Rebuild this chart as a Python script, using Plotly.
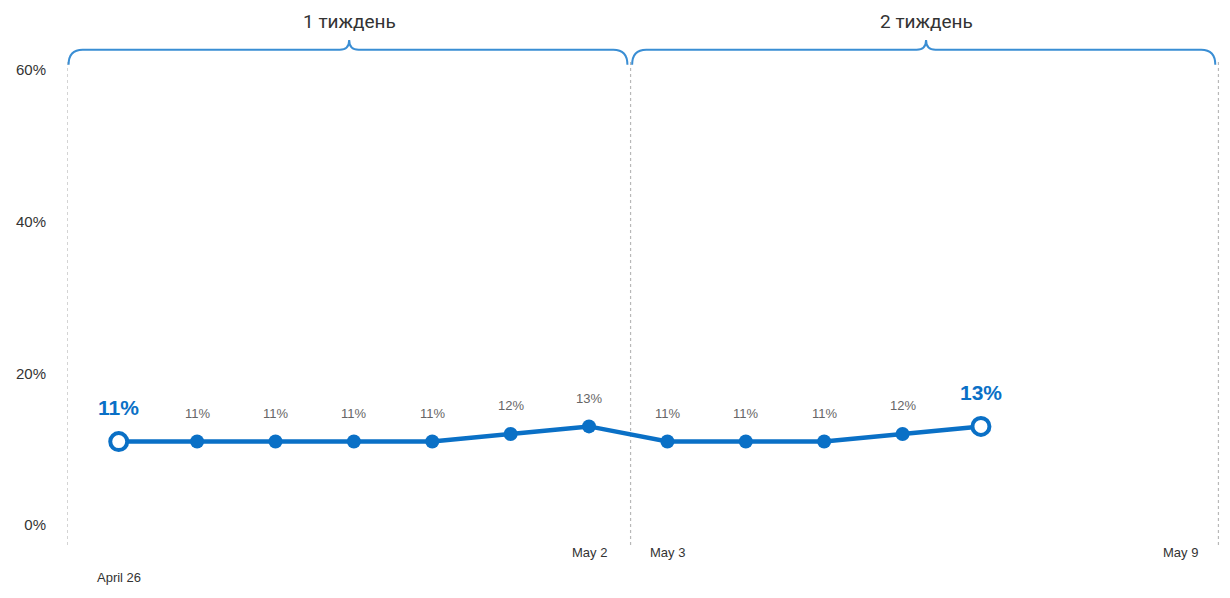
import plotly.graph_objects as go

# Daily share, April 26 – May 7 (day index counted from April 26)
day_index = [0, 1, 2, 3, 4, 5, 6, 7, 8, 9, 10, 11]
share_pct = [11, 11, 11, 11, 11, 12, 13, 11, 11, 11, 12, 13]

# Axis date labels: (day index, text)
date_labels = [(6, "May 2"), (7, "May 3"), (13.55, "May 9")]
start_label = (0, "April 26")

week_names = ["1 тиждень", "2 тиждень"]
week_bounds = [(-0.66, 6.53), (6.53, 14.03)]
week_peaks = [2.94, 10.3]

y_ticks = [0, 20, 40, 60]

BLUE = "#0a70c6"
BRACE = "#3a8ed4"
GRID = "#b8b8b8"

n = len(share_pct)
fig = go.Figure()

fig.add_trace(go.Scatter(
    x=day_index, y=share_pct, mode="lines+markers",
    line=dict(color=BLUE, width=4.5),
    marker=dict(
        size=[17] + [14] * (n - 2) + [17],
        color=["white"] + [BLUE] * (n - 2) + ["white"],
        opacity=1,
        line=dict(color=BLUE, width=[4] + [0] * (n - 2) + [4]),
    ),
    hoverinfo="skip", showlegend=False,
))

annotations = []
last = n - 1
for i, (d, v) in enumerate(zip(day_index, share_pct)):
    if i in (0, last):
        annotations.append(dict(
            x=d, y=v, text=f"<b>{v}%</b>", showarrow=False,
            font=dict(family="Liberation Sans", size=21, color=BLUE),
            yshift=34,
        ))
    else:
        annotations.append(dict(
            x=d, y=v, text=f"{v}%", showarrow=False,
            font=dict(family="Liberation Sans", size=13, color="#666666"),
            yshift=28,
        ))

for d, t in date_labels:
    annotations.append(dict(
        x=d, y=-0.035, yref="paper", text=t, showarrow=False,
        font=dict(family="Liberation Sans", size=13, color="#333333"),
    ))
annotations.append(dict(
    x=start_label[0], y=-0.087, yref="paper", text=start_label[1], showarrow=False,
    font=dict(family="Liberation Sans", size=13, color="#333333"),
))

for name, peak in zip(week_names, week_peaks):
    annotations.append(dict(
        x=peak, y=1.108, yref="paper", text=name, showarrow=False,
        font=dict(family="Roboto", size=19, color="#333333"),
    ))

shapes = []
# dotted week separators
for xv in [week_bounds[0][0], week_bounds[0][1], week_bounds[1][1]]:
    shapes.append(dict(
        type="line", x0=xv, x1=xv, y0=0, y1=1, yref="paper", xref="x",
        line=dict(color=GRID, width=1.2, dash="dot"), layer="below",
    ))


def brace_path(x0, x1, xm, y_end, y_line, y_peak, r=0.18, rm=0.12):
    return (
        f"M {x0},{y_end} Q {x0},{y_line} {x0 + r},{y_line} "
        f"L {xm - rm},{y_line} Q {xm},{y_line} {xm},{y_peak} "
        f"Q {xm},{y_line} {xm + rm},{y_line} "
        f"L {x1 - r},{y_line} Q {x1},{y_line} {x1},{y_end}"
    )


for (a, b), peak in zip(week_bounds, week_peaks):
    shapes.append(dict(
        type="path", xref="x", yref="paper",
        path=brace_path(a + 0.02, b - 0.04, peak, 0.990, 1.021, 1.041),
        line=dict(color=BRACE, width=2),
    ))

fig.update_layout(
    width=1230, height=598,
    margin=dict(l=67, r=10, t=60, b=53),
    paper_bgcolor="white", plot_bgcolor="white",
    xaxis=dict(range=[-0.66, 14.05], showgrid=False, zeroline=False,
               showticklabels=False, showline=False, fixedrange=True),
    yaxis=dict(range=[-2.64, 61.32], tickvals=y_ticks,
               ticktext=[f"{v}%" for v in y_ticks],
               showgrid=False, zeroline=False, showline=False,
               ticks="", ticklabelstandoff=20,
               tickfont=dict(family="Liberation Sans", size=15, color="#333333")),
    annotations=annotations,
    shapes=shapes,
)

fig.write_html("out.html")
